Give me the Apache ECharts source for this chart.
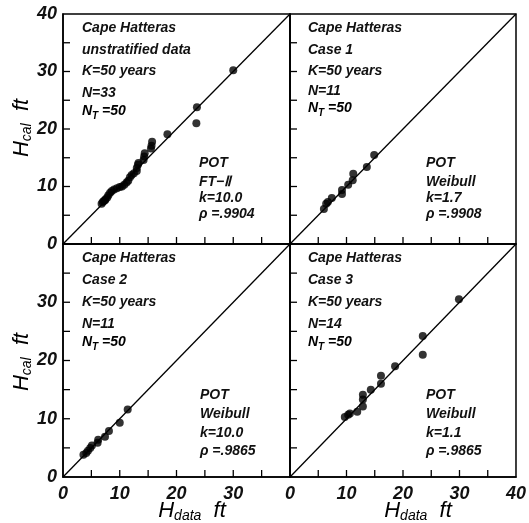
<!DOCTYPE html>
<html>
<head>
<meta charset="utf-8">
<script src="https://cdn.jsdelivr.net/npm/echarts@6/dist/echarts.min.js"></script>
<style>
  html, body { margin: 0; padding: 0; background: #fff; }
  #main { width: 529px; height: 523px; }
</style>
</head>
<body>
<div id="main"></div>
<script>
// H_data, H_cal pairs (ft)
var unstratified = [
  [6.8, 7.0], [7.0, 7.3], [7.2, 7.5], [7.4, 7.6], [7.5, 7.8], [7.8, 8.1], [8.0, 8.5],
  [8.3, 8.9], [8.6, 9.2], [9.0, 9.5], [9.5, 9.7], [10.0, 9.9], [10.4, 10.0], [10.8, 10.3],
  [11.2, 10.7], [11.5, 11.0], [11.8, 11.6], [12.1, 12.0], [12.5, 12.3], [13.0, 12.7],
  [13.0, 13.2], [13.2, 13.8], [13.3, 14.1], [14.2, 14.6], [14.3, 15.2], [14.4, 15.8],
  [15.5, 16.6], [15.6, 17.1], [15.7, 17.8], [18.4, 19.1], [23.5, 21.0], [23.6, 23.8],
  [30.0, 30.2]
]
var case1 = [
  [6.0, 6.1], [6.4, 7.0], [6.7, 7.3], [7.4, 8.0], [9.2, 8.7], [9.2, 9.4],
  [10.3, 10.3], [11.1, 11.1], [11.2, 12.2], [13.6, 13.4], [14.9, 15.5]
]
var case2 = [
  [3.6, 3.8], [4.1, 4.1], [4.4, 4.5], [4.8, 5.0], [5.1, 5.4], [6.1, 5.9],
  [6.2, 6.4], [7.4, 6.9], [8.1, 7.9], [10.0, 9.3], [11.4, 11.6]
]
var case3 = [
  [9.7, 10.3], [10.3, 10.7], [10.6, 10.9], [11.9, 11.2], [12.9, 12.1], [12.9, 13.3],
  [12.9, 14.1], [14.3, 15.0], [16.1, 16.0], [16.1, 17.4], [18.6, 19.0], [23.5, 21.0],
  [23.5, 24.2], [29.9, 30.5]
]
var diagonal = [[0, 0], [40, 40]]
var tickLabels = ['0', '10', '20', '30', '40']
var tickValues = [5, 10, 15, 20, 25, 30, 35]

var panelText = [
  { head: ['Cape Hatteras', 'unstratified data', 'K=50 years', 'N=33'], nt: '=50',
    fit: ['POT', 'FT\u2212\u2161', 'k=10.0', '\u03c1 =.9904'] },
  { head: ['Cape Hatteras', 'Case 1', 'K=50 years', 'N=11'], nt: '=50',
    fit: ['POT', 'Weibull', 'k=1.7', '\u03c1 =.9908'] },
  { head: ['Cape Hatteras', 'Case 2', 'K=50 years', 'N=11'], nt: '=50',
    fit: ['POT', 'Weibull', 'k=10.0', '\u03c1 =.9865'] },
  { head: ['Cape Hatteras', 'Case 3', 'K=50 years', 'N=14'], nt: '=50',
    fit: ['POT', 'Weibull', 'k=1.1', '\u03c1 =.9865'] }
]

var FONT = '"Liberation Sans", Arial, sans-serif'
var chart = echarts.init(document.getElementById('main'))

var grids = [
  { left: 63, top: 14, width: 227, height: 230 },
  { left: 290, top: 14, width: 226, height: 230 },
  { left: 63, top: 244, width: 227, height: 233 },
  { left: 290, top: 244, width: 226, height: 233 }
]
grids.forEach(function (g) {
  g.show = true
  g.borderColor = '#000'
  g.borderWidth = 1.5
})

function axis(i, isX) {
  var showLabel = isX ? i >= 2 : i % 2 === 0
  return {
    type: 'value', gridIndex: i, min: 0, max: 40, interval: 10,
    axisLine: { show: true, onZero: false, lineStyle: { color: '#000', width: 1.5 } },
    axisTick: { show: false },
    splitLine: { show: false },
    axisLabel: {
      show: showLabel, margin: isX ? 8 : 6,
      fontFamily: FONT, fontStyle: 'italic', fontWeight: 'bold', fontSize: 18, color: '#111',
      formatter: function (v) {
        // the shared corner only carries one label
        if (v === 40 && i === 2) return ''
        return tickLabels[v / 10]
      }
    }
  }
}

// inward ticks on the bottom and left edges of each panel
function renderTicks(params, api) {
  var v = api.value(0)
  var px = api.coord([v, 0])
  var py = api.coord([0, v])
  var st = { stroke: '#000', lineWidth: 1.3 }
  return {
    type: 'group',
    children: [
      { type: 'line', shape: { x1: px[0], y1: px[1], x2: px[0], y2: px[1] - 7 }, style: st },
      { type: 'line', shape: { x1: py[0], y1: py[1], x2: py[0] + 7, y2: py[1] }, style: st }
    ]
  }
}

var xAxes = [], yAxes = [], series = []
var sets = [unstratified, case1, case2, case3]
for (var i = 0; i < 4; i++) {
  xAxes.push(axis(i, true))
  yAxes.push(axis(i, false))
  series.push({
    type: 'custom', xAxisIndex: i, yAxisIndex: i, silent: true,
    data: tickValues.map(function (v) { return [v, v] }),
    encode: { x: 0, y: 1 }, renderItem: renderTicks
  })
  series.push({
    type: 'line', xAxisIndex: i, yAxisIndex: i, data: diagonal,
    symbol: 'none', lineStyle: { color: '#000', width: 1.3 }, silent: true
  })
  series.push({
    type: 'scatter', xAxisIndex: i, yAxisIndex: i, data: sets[i],
    symbolSize: 8, itemStyle: { color: '#000' }
  })
}

var base = { fontFamily: FONT, fontStyle: 'italic', fontWeight: 'bold', fontSize: 14, fill: '#111' }
function txt(x, y, s) {
  return { type: 'text', x: x, y: y, style: Object.assign({ text: s, verticalAlign: 'middle' }, base) }
}
function ntText(x, y, val) {
  return {
    type: 'text', x: x, y: y,
    style: {
      text: '{a|N}{s|T}{a| ' + val + '}', verticalAlign: 'middle',
      rich: {
        a: { fontFamily: FONT, fontStyle: 'italic', fontWeight: 'bold', fontSize: 14, color: '#111', lineHeight: 20 },
        s: { fontFamily: FONT, fontStyle: 'italic', fontWeight: 'bold', fontSize: 10, color: '#111', lineHeight: 20,
             verticalAlign: 'bottom', padding: [6, 0, 0, 0] }
      }
    }
  }
}

var headPos = [
  { x: 82, ys: [28, 50, 71, 93, 111] },
  { x: 308, ys: [28, 50, 71, 91, 108] },
  { x: 82, ys: [258, 280, 302, 324, 342] },
  { x: 308, ys: [258, 280, 302, 324, 342] }
]
var fitPos = [
  { x: 199, ys: [163, 182, 198, 214] },
  { x: 426, ys: [163, 182, 198, 214] },
  { x: 200, ys: [395, 414, 433, 451] },
  { x: 426, ys: [395, 414, 433, 451] }
]

var graphics = []
panelText.forEach(function (p, k) {
  var hp = headPos[k], fp = fitPos[k]
  p.head.forEach(function (s, j) { graphics.push(txt(hp.x, hp.ys[j], s)) })
  graphics.push(ntText(hp.x, hp.ys[4], p.nt))
  p.fit.forEach(function (s, j) { graphics.push(txt(fp.x, fp.ys[j], s)) })
})

function axisTitle(x, y, sub, rotate) {
  return {
    type: 'text', x: x, y: y, rotation: rotate ? Math.PI / 2 : 0,
    style: {
      text: '{h|H}{s|' + sub + '}{h|  ft}', align: 'center', verticalAlign: 'middle',
      rich: {
        h: { fontFamily: FONT, fontStyle: 'italic', fontSize: 22, color: '#111', lineHeight: 24 },
        s: { fontFamily: FONT, fontStyle: 'italic', fontSize: 14, color: '#111', lineHeight: 24,
             verticalAlign: 'bottom', padding: [6, 0, 0, 0] }
      }
    }
  }
}
graphics.push(axisTitle(22, 128, 'cal', true))
graphics.push(axisTitle(22, 362, 'cal', true))
graphics.push(axisTitle(192, 511, 'data', false))
graphics.push(axisTitle(418, 511, 'data', false))

chart.setOption({
  backgroundColor: '#fff',
  animation: false,
  grid: grids,
  xAxis: xAxes,
  yAxis: yAxes,
  series: series,
  graphic: graphics
})
</script>
</body>
</html>
